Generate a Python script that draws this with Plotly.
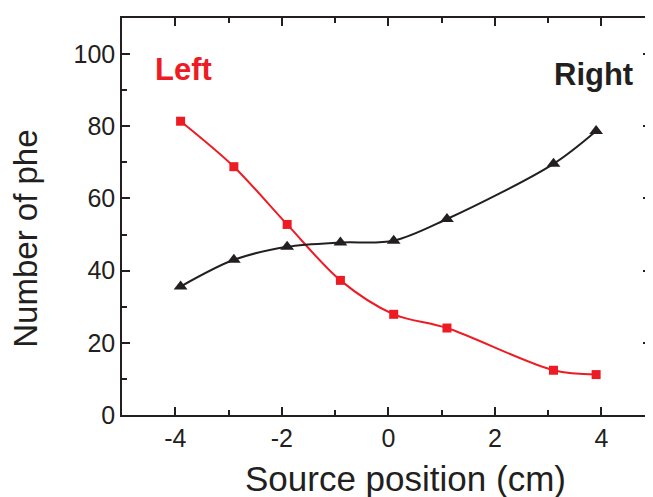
import plotly.graph_objs as go

# Source positions (cm)
positions = [-3.9, -2.9, -1.9, -0.9, 0.1, 1.1, 3.1, 3.9]

# Number of photoelectrons seen by each PMT
left_phe = [81.4, 68.8, 52.8, 37.3, 27.9, 24.1, 12.4, 11.2]
right_phe = [35.6, 43.0, 46.6, 47.8, 48.3, 54.3, 69.6, 78.7]

red = "#ED1C24"
black = "#231F20"

data = [
    go.Scatter(
        x=positions,
        y=left_phe,
        mode="lines+markers",
        line=dict(color=red, width=2, shape="spline", smoothing=0.9),
        marker=dict(symbol="square", size=9, color=red),
        name="Left",
    ),
    go.Scatter(
        x=positions,
        y=right_phe,
        mode="lines+markers",
        line=dict(color=black, width=2, shape="spline", smoothing=0.9),
        marker=dict(symbol="triangle-up", size=12, color=black),
        name="Right",
    ),
]

axis_style = dict(
    showgrid=False,
    zeroline=False,
    showline=True,
    linecolor=black,
    linewidth=1.5,
    mirror="ticks",
    ticks="inside",
    ticklen=8,
    tickwidth=1.5,
    tickcolor=black,
    tickfont=dict(family="Liberation Sans, Arial", size=25, color=black),
)

# the page body has an 8px margin, so the margins are trimmed to suit
layout = go.Layout(
    width=653,
    height=497,
    showlegend=False,
    plot_bgcolor="white",
    paper_bgcolor="white",
    margin=dict(l=114, r=8, t=8, b=90),
    font=dict(family="Liberation Sans, Arial", color=black),
    xaxis=dict(
        axis_style,
        range=[-5, 4.93],
        tickvals=[-4, -2, 0, 2, 4],
        ticktext=["-4", "-2", "0", "2", "4"],
        minor=dict(tickvals=[-3, -1, 1, 3], ticklen=5, tickwidth=1.5,
                   tickcolor=black, ticks="inside"),
    ),
    yaxis=dict(
        axis_style,
        range=[0, 110],
        tickvals=[0, 20, 40, 60, 80, 100],
        minor=dict(tickvals=[10, 30, 50, 70, 90], ticklen=5, tickwidth=1.5,
                   tickcolor=black, ticks="inside"),
    ),
    annotations=[
        # axis titles (placed as annotations, they sit off-centre in the original)
        dict(x=0.536, y=0, xref="paper", yref="paper", text="Source position (cm)",
             showarrow=False, xanchor="center", yanchor="middle", yshift=-63,
             font=dict(size=35, color=black)),
        dict(x=0, y=0.444, xref="paper", yref="paper", text="Number of phe",
             showarrow=False, xanchor="center", yanchor="middle", xshift=-96,
             textangle=-90, font=dict(size=33, color=black)),
        dict(x=-4.41, y=95.8, xref="x", yref="y", text="<b>Left</b>",
             showarrow=False, xanchor="left", yanchor="middle",
             font=dict(size=31, color=red)),
        dict(x=4.63, y=94.4, xref="x", yref="y", text="<b>Right</b>",
             showarrow=False, xanchor="right", yanchor="middle",
             font=dict(size=31, color=black)),
    ],
)

fig = go.Figure(data=data, layout=layout)
fig.write_html("out.html")
